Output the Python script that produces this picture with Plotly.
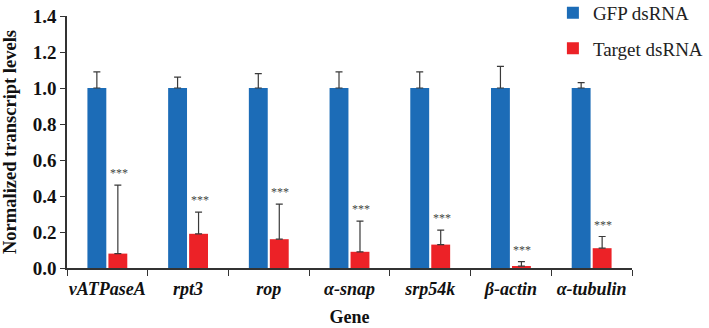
import plotly.graph_objects as go

genes = ["vATPaseA", "rpt3", "rop", "α-snap", "srp54k", "β-actin", "α-tubulin"]
gfp_vals = [1.0, 1.0, 1.0, 1.0, 1.0, 1.0, 1.0]
gfp_err = [0.09, 0.06, 0.08, 0.09, 0.09, 0.12, 0.03]
tgt_vals = [0.08, 0.19, 0.16, 0.09, 0.13, 0.01, 0.11]
tgt_err = [0.38, 0.12, 0.195, 0.17, 0.08, 0.025, 0.065]
sig = ["***"] * 7

labels = [f"<b><i>{g}</i></b>" for g in genes]

fig = go.Figure()
fig.add_trace(go.Bar(
    x=labels, y=gfp_vals, name="GFP dsRNA", legendgroup="a",
    marker=dict(color="#1C6CB7", line=dict(width=0)),
    error_y=dict(type="data", array=gfp_err, arrayminus=[0]*7, symmetric=False,
                 color="#3a3a3a", thickness=1.2, width=3.5),
))
fig.add_trace(go.Bar(
    x=labels, y=tgt_vals, name="Target dsRNA", legendgroup="b",
    marker=dict(color="#EC2227", line=dict(width=0)),
    error_y=dict(type="data", array=tgt_err, arrayminus=[0]*7, symmetric=False,
                 color="#3a3a3a", thickness=1.2, width=3.5),
))

for i, (v, e, s) in enumerate(zip(tgt_vals, tgt_err, sig)):
    fig.add_annotation(x=labels[i], y=v + e, text=s, showarrow=False,
                       xshift=11.5, yshift=12, font=dict(size=12, color="#444444",
                       family="Liberation Serif"))

fig.update_layout(
    width=709, height=328,
    margin=dict(l=67, r=77, t=16, b=60, autoexpand=False),
    paper_bgcolor="white", plot_bgcolor="white",
    barmode="group", bargap=0.48, bargroupgap=0.1,
    font=dict(family="Liberation Serif", color="#222222"),
    legend=dict(x=0.86, y=1.088, xanchor="left", yanchor="top",
                font=dict(size=19, family="Liberation Serif", color="#222222"),
                itemwidth=30, tracegroupgap=8, bgcolor="rgba(0,0,0,0)"),
    xaxis=dict(showline=True, linecolor="#333333", linewidth=1.5,
               ticks="outside", tickson="boundaries", ticklen=6,
               tickcolor="#333333", tickwidth=1.2, tickangle=0, automargin=False,
               ticklabelstandoff=4,
               tickfont=dict(size=18, family="Liberation Serif", color="#111111"),
               title=dict(text="<b>Gene</b>", standoff=12,
                          font=dict(size=18, family="Liberation Serif", color="#111111"))),
    yaxis=dict(range=[0, 1.4], dtick=0.2, tickformat=".1f", automargin=False,
               showline=True, linecolor="#333333", linewidth=1.5,
               ticks="outside", ticklen=5, tickcolor="#333333", tickwidth=1.2,
               showgrid=False, zeroline=False,
               tickfont=dict(size=19, family="Liberation Serif", color="#111111"),
               title=dict(text="<b>Normalized transcript levels</b>", standoff=11,
                          font=dict(size=18.5, family="Liberation Serif", color="#111111"))),
)
fig.update_yaxes(tickprefix="<b>", ticksuffix="</b>")
fig.write_html("out.html")
